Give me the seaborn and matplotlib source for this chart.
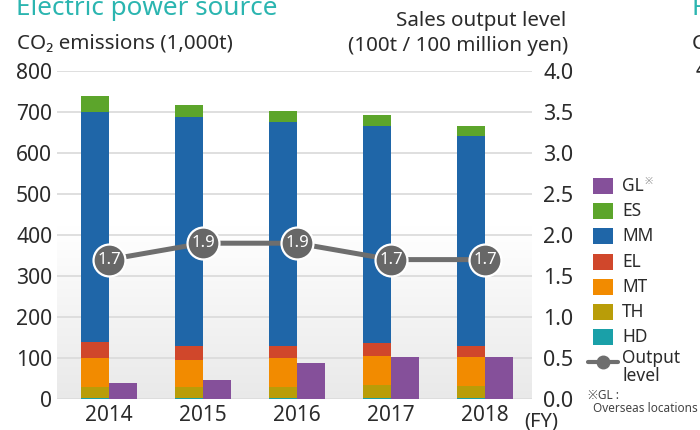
import numpy as np
import pandas as pd
import matplotlib
matplotlib.use("Agg")
import matplotlib.pyplot as plt
import seaborn as sns
from matplotlib.patches import Rectangle
from matplotlib.lines import Line2D

# CO2 emissions by business unit (1,000 t) and sales output level
years = ["2014", "2015", "2016", "2017", "2018"]
hd = [2, 2, 2, 2, 2]
th = [27, 27, 28, 32, 30]
mt = [72, 67, 70, 72, 70]
el = [37, 34, 30, 31, 28]
mm = [562, 557, 545, 530, 512]
es = [38, 29, 27, 26, 25]
gl = [39, 47, 88, 102, 102]
output_level = [1.7, 1.9, 1.9, 1.7, 1.7]

segments = ["HD", "TH", "MT", "EL", "MM", "ES"]
segment_values = [hd, th, mt, el, mm, es]
colors = {
    "GL": "#85509a",
    "ES": "#5ca52b",
    "MM": "#1f66a8",
    "EL": "#d0472b",
    "MT": "#f28b00",
    "TH": "#b99d08",
    "HD": "#1aa0a8",
}
TEAL = "#2bb5b0"
TEXT = "#2b2b2b"

sns.set_theme(style="white")
plt.rcParams["font.family"] = ["Noto Sans", "Noto Sans CJK JP", "DejaVu Sans"]

W, H = 700, 430
fig = plt.figure(figsize=(W / 100, H / 100), dpi=100)


def fx(px):
    return px / W


def fy(py):
    return 1 - py / H


ax = fig.add_axes([fx(57), fy(399), fx(532) - fx(57), fy(71) - fy(399)])

# soft grey wash at the bottom of the plot area
grad = np.linspace(0, 1, 256).reshape(-1, 1)
cmap = matplotlib.colors.LinearSegmentedColormap.from_list("wash", ["#e9e9e9", "#ffffff"])
ax.imshow(grad, extent=[-0.553, 4.5, 0, 420], origin="lower", aspect="auto",
          cmap=cmap, zorder=0)

# stacked bars: draw cumulative totals from the top layer down
cum = np.cumsum(np.array(segment_values), axis=0)
for i in range(len(segments) - 1, -1, -1):
    df = pd.DataFrame({
        "year": years * 2,
        "group": ["site"] * 5 + ["GL"] * 5,
        "value": list(cum[i]) + (gl if i == len(segments) - 1 else [0] * 5),
    })
    sns.barplot(data=df, x="year", y="value", hue="group", hue_order=["site", "GL"],
                palette={"site": colors[segments[i]], "GL": colors["GL"]},
                saturation=1, dodge=True, width=0.6, linewidth=0, legend=False,
                ax=ax, zorder=2 + (len(segments) - i), errorbar=None)

ax.set_xlim(-0.553, 4.5)
ax.set_ylim(0, 800)
ax.set_yticks(range(0, 801, 100))
ax.set_xlabel("")
ax.set_ylabel("")
ax.yaxis.grid(True, color="#dcdcdc", linewidth=1.3, zorder=1)
ax.set_axisbelow(True)
for s in ax.spines.values():
    s.set_visible(False)
ax.tick_params(axis="y", length=0, pad=3.5, labelsize=15.2, labelcolor=TEXT)
ax.tick_params(axis="x", length=0, pad=4, labelsize=15, labelcolor=TEXT)

# sales output level on the secondary axis
ax2 = ax.twinx()
sns.lineplot(x=np.arange(len(years)), y=output_level, ax=ax2, color="#6e6e6e",
             linewidth=3.6, marker="o", markersize=23, markerfacecolor="#676767",
             markeredgecolor="white", markeredgewidth=1.6, zorder=10)
for i, v in enumerate(output_level):
    ax2.text(i, v, f"{v:.1f}", color="white", fontsize=12, ha="center", va="center",
             zorder=11)
ax2.set_ylim(0, 4.0)
ax2.set_yticks(np.arange(0, 4.01, 0.5))
ax2.set_yticklabels([f"{t:.1f}" for t in np.arange(0, 4.01, 0.5)])
ax2.set_xlim(-0.553, 4.5)
for s in ax2.spines.values():
    s.set_visible(False)
ax2.tick_params(axis="y", length=0, pad=8, labelsize=15.5, labelcolor=TEXT)
ax2.grid(False)

# titles and axis captions
fig.text(fx(16), fy(15), "Electric power source", color=TEAL, fontsize=18.8, va="baseline")
fig.text(fx(17), fy(44), "CO₂ emissions (1,000t)", color=TEXT, fontsize=14.8, va="center")
fig.text(fx(566), fy(21), "Sales output level", color=TEXT, fontsize=14.8,
         ha="right", va="center")
fig.text(fx(568), fy(46), "(100t / 100 million yen)", color=TEXT, fontsize=14.8,
         ha="right", va="center")
fig.text(fx(524), fy(422), "(FY)", color=TEXT, fontsize=14.5, va="center")

# neighbouring panel edge
fig.text(fx(692), fy(15), "F", color=TEAL, fontsize=18.8, va="baseline")
fig.text(fx(692), fy(44), "C", color=TEXT, fontsize=14.8, va="center")
fig.text(fx(696), fy(71), "4", color=TEXT, fontsize=15, va="center")

# legend
legend_rows = [("GL", 186), ("ES", 211), ("MM", 236), ("EL", 262),
               ("MT", 287), ("TH", 312), ("HD", 337)]
for name, yc in legend_rows:
    fig.add_artist(Rectangle((fx(593), fy(yc + 8)), fx(20), fy(yc - 8) - fy(yc + 8),
                             transform=fig.transFigure, facecolor=colors[name],
                             edgecolor="none"))
    fig.text(fx(622), fy(yc), name, color=TEXT, fontsize=12.5, va="center")
fig.text(fx(645), fy(181), "※", color="#777777", fontsize=7, va="center")

fig.add_artist(Line2D([fx(588), fx(618)], [fy(362), fy(362)], transform=fig.transFigure,
                      color="#6e6e6e", linewidth=3))
fig.add_artist(Line2D([fx(603)], [fy(362)], transform=fig.transFigure, color="#6e6e6e",
                      marker="o", markersize=9, linestyle="none"))
fig.text(fx(622), fy(358), "Output", color=TEXT, fontsize=12.5, va="center")
fig.text(fx(622), fy(376), "level", color=TEXT, fontsize=12.5, va="center")

fig.text(fx(588), fy(395), "※GL :", color="#444444", fontsize=8.5, va="center")
fig.text(fx(593), fy(408), "Overseas locations", color="#444444", fontsize=8.5, va="center")

fig.savefig("out.png", dpi=100)
